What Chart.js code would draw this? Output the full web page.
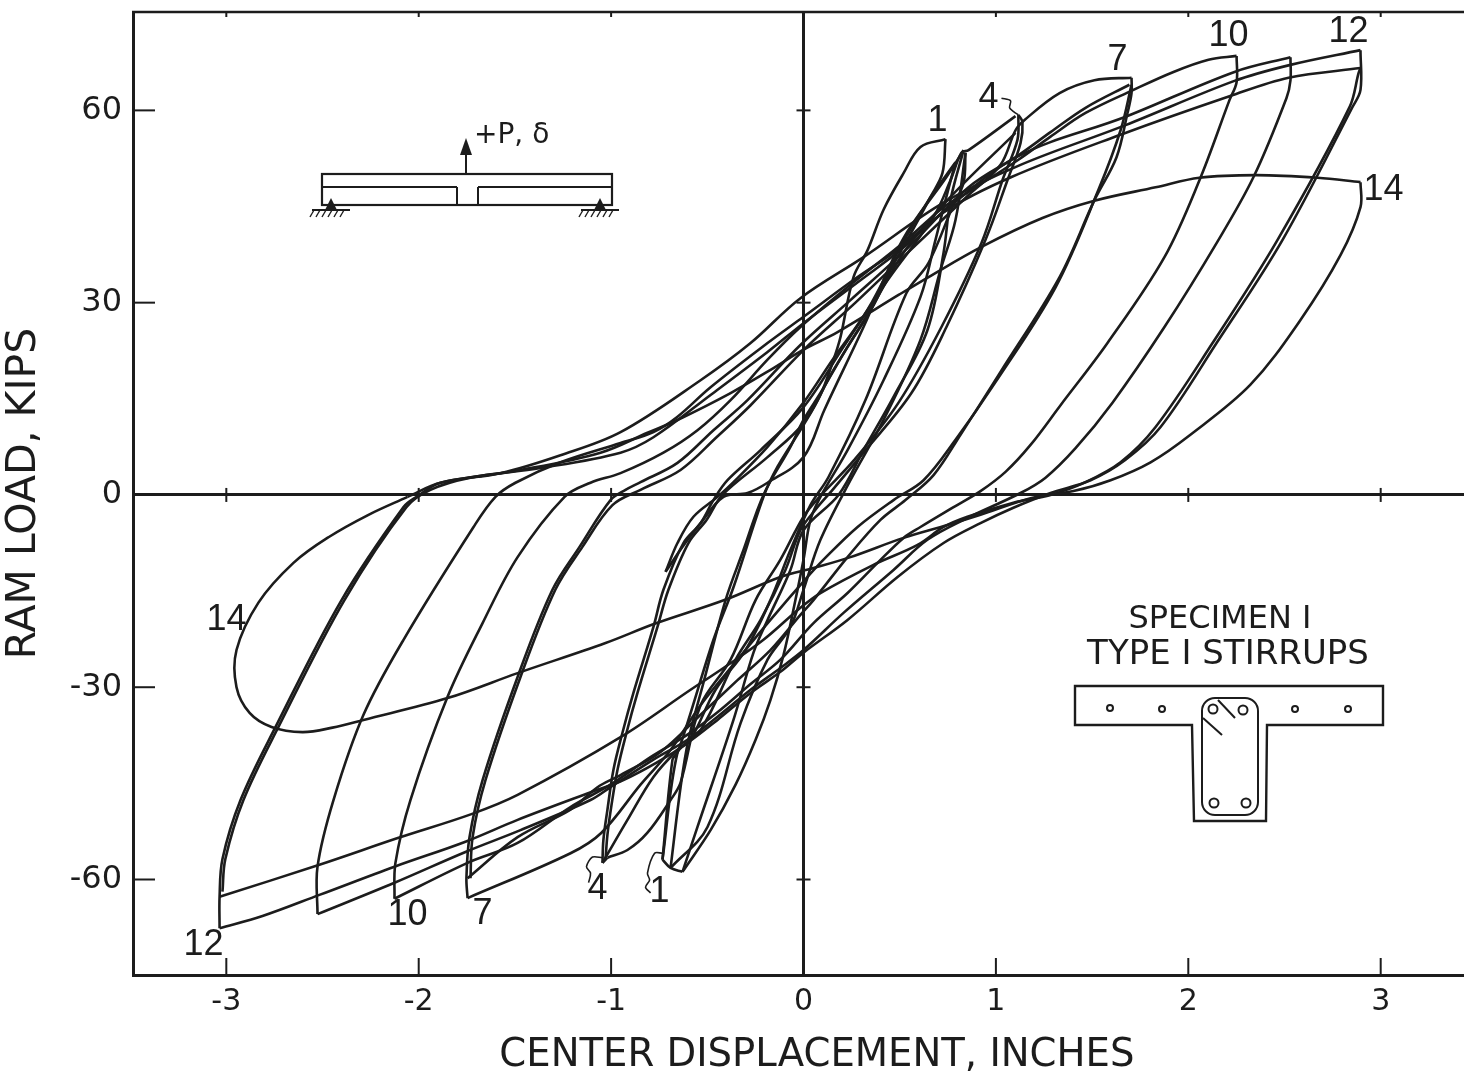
<!DOCTYPE html>
<html><head><meta charset="utf-8">
<style>html,body{margin:0;padding:0;background:#fff}canvas{display:block}</style>
<script src="https://cdn.jsdelivr.net/npm/chart.js@4/dist/chart.umd.min.js"></script>
</head><body><canvas id="c" width="1464" height="1075"></canvas>
<script>
const xTickValues=[-3,-2,-1,0,1,2,3];
const yTickValues=[-60,-30,0,30,60];
const xAxisTitle="\u00A0\u00A0\u00A0CENTER DISPLACEMENT, INCHES";
const yAxisTitle="RAM LOAD, KIPS";

// Each branch: [displacement in, load kips]
const cycle14Reload=[[-2.058,-0.3],[-1.887,1.9],[-1.471,3.9],[-1.055,6.6],[-0.811,9.7],[-0.655,11.7],[-0.379,15.9],[-0.156,19.8],[-0.005,22.6],[0.177,25.4],[0.494,31.2],[0.650,34.0],[0.925,38.7],[1.242,43.2],[1.512,45.9],[1.830,48.0],[2.058,49.5],[2.354,49.9],[2.672,49.5],[2.895,48.8]];
const cycle14Unload=[[2.895,48.8],[2.895,44.9],[2.791,37.4],[2.583,27.3],[2.323,17.2],[2.011,9.4],[1.804,5.1],[1.596,2.3],[1.403,0.6],[1.180,-0.5],[0.920,-3.1],[0.748,-4.7],[0.520,-6.7],[0.244,-9.7],[0.052,-11.4],[-0.120,-12.8],[-0.411,-16.4],[-0.774,-20.1],[-1.029,-23.1],[-1.486,-27.8],[-1.850,-31.7],[-2.287,-35.1],[-2.448,-36.3],[-2.604,-37.0],[-2.765,-36.2],[-2.879,-34.0],[-2.947,-30.0],[-2.947,-24.2],[-2.833,-16.8],[-2.651,-10.6],[-2.469,-6.6],[-2.261,-3.1],[-2.058,-0.3]];
const cycle12UnloadA=[[2.895,69.4],[2.895,63.2],[2.853,60.5],[2.490,39.8],[2.147,23.7],[1.856,10.6],[1.674,5.5],[1.492,2.3],[1.284,0.3],[1.091,-2.0],[0.920,-4.4],[0.728,-7.5],[0.489,-12.8],[0.229,-19.5],[0,-24.6],[-0.120,-27.6],[-0.275,-30.9],[-0.447,-35.1],[-0.603,-38.7],[-0.759,-41.7],[-0.936,-44.5],[-1.071,-46.0],[-1.486,-50.7],[-1.757,-54.1],[-2.126,-58.0],[-2.516,-62.4],[-2.812,-65.7],[-3.035,-67.6]];
const cycle12UnloadB=[[2.895,66.6],[2.885,65.8],[2.838,60.5],[2.464,39.8],[2.126,23.7],[1.830,10.6],[1.648,5.1],[1.466,2.0],[1.284,0],[1.091,-1.2],[0.852,-3.4],[0.728,-5.0],[0.593,-7.8],[0.364,-10.9],[0.088,-15.3],[-0.016,-17.6],[-0.208,-22.6],[-0.416,-27.0],[-0.587,-30.4],[-0.951,-37.8],[-1.486,-46.8],[-1.726,-49.8],[-2.105,-53.5],[-2.516,-57.7],[-3.035,-62.7]];
const cycle11Unload=[[2.531,68.3],[2.531,64.7],[2.510,61.9],[2.339,49.6],[2.147,39.3],[1.876,26.2],[1.606,14.4],[1.414,7.3],[1.258,2.7],[1.128,0.3],[0.852,-3.6],[0.644,-7.0],[0.468,-11.7],[0.208,-18.4],[0,-24.2],[-0.120,-27.0],[-0.275,-30.4],[-0.447,-34.6],[-0.603,-38.2],[-0.780,-41.3],[-1.003,-45.6],[-1.107,-47.6],[-1.471,-52.3],[-1.757,-55.7],[-2.126,-60.5],[-2.526,-65.4]];
const cycle10Unload=[[2.251,68.5],[2.251,64.4],[2.214,61.6],[2.058,49.1],[1.876,37.1],[1.580,23.7],[1.336,14.0],[1.180,7.8],[1.050,3.6],[0.920,0.6],[0.780,-1.9],[0.608,-5.0],[0.520,-6.7],[0.385,-10.6],[0.229,-15.3],[0.052,-20.0],[-0.120,-25.7],[-0.275,-29.5],[-0.447,-33.9],[-0.603,-37.4],[-0.795,-40.9],[-1.003,-45.2],[-1.211,-48.7],[-1.486,-54.3],[-1.746,-57.4],[-2.126,-63.0]];
const cycle7UnloadA=[[1.705,65.1],[1.705,62.7],[1.684,59.6],[1.627,52.7],[1.512,46.0],[1.331,34.0],[1.024,19.2],[0.816,9.4],[0.676,3.1],[0.530,-0.8],[0.400,-3.9],[0.229,-9.7],[0.052,-16.4],[-0.016,-18.7],[-0.172,-24.2],[-0.343,-28.9],[-0.535,-34.3],[-0.743,-40.1],[-0.951,-43.7],[-1.071,-45.6],[-1.211,-49.1],[-1.486,-53.4],[-1.746,-59.8]];
const cycle7UnloadB=[[1.705,64.0],[1.648,56.9],[1.533,47.6],[1.310,32.4],[0.998,17.6],[0.790,8.6],[0.624,2.3],[0.468,-0.8],[0.281,-5.0],[0.104,-10.1],[0.021,-12.8],[-0.172,-19.5],[-0.343,-25.7],[-0.535,-32.8],[-0.691,-39.8],[-0.847,-45.2],[-1.050,-52.7],[-1.211,-55.9],[-1.746,-62.9]];
const cycle12Reload=[[-3.035,-67.6],[-3.035,-62.7],[-3.020,-56.8],[-2.926,-47.6],[-2.744,-36.2],[-2.401,-16.4],[-2.079,-1.9],[-2.011,-0.3],[-1.887,1.9],[-1.575,3.4],[-1.263,6.2],[-0.951,9.8],[-0.535,17.9],[-0.275,23.7],[-0.016,30.7],[0.312,37.1],[0.728,45.6],[1.128,51.5],[1.674,57.7],[2.240,64.6],[2.531,67.1],[2.895,69.4]];
const cycle13Reload=[[-3.020,-61.9],[-3.005,-56.8],[-2.911,-47.6],[-2.729,-36.2],[-2.386,-16.4],[-2.064,-1.9],[-1.939,0.8],[-1.731,2.7],[-1.367,4.2],[-0.951,6.6],[-0.780,9.0],[-0.483,15.6],[-0.187,22.3],[0,26.8],[0.296,33.5],[0.504,38.2],[0.728,44.1],[1.081,49.6],[1.648,56.2],[2.214,62.2],[2.521,65.1],[2.895,66.6]];
const cycle11Reload=[[-2.526,-65.4],[-2.526,-58.0],[-2.443,-47.6],[-2.287,-34.3],[-2.079,-22.6],[-1.715,-5.0],[-1.601,-0.3],[-1.497,1.9],[-1.263,5.1],[-0.951,8.1],[-0.780,9.8],[-0.655,12.2],[-0.483,16.8],[-0.187,23.7],[0,27.8],[0.281,34.0],[0.468,37.8],[0.676,42.9],[1.107,52.7],[1.674,59.0],[2.240,66.0],[2.531,68.3]];
const cycle10Reload=[[-2.126,-63.0],[-2.121,-57.4],[-2.043,-47.6],[-1.850,-31.5],[-1.668,-20.0],[-1.486,-9.7],[-1.242,-0.3],[-1.107,1.9],[-0.951,3.4],[-0.728,6.6],[-0.551,10.1],[-0.379,14.8],[-0.187,21.1],[-0.016,26.2],[0.244,32.8],[0.504,39.0],[0.728,44.9],[0.858,47.3],[1.117,52.3],[1.284,55.9],[1.466,59.6],[1.715,63.2],[1.923,66.0],[2.105,67.9],[2.251,68.5]];
const cycle7ReloadA=[[-1.746,-62.9],[-1.752,-59.8],[-1.736,-53.4],[-1.668,-44.5],[-1.486,-28.4],[-1.305,-14.8],[-1.164,-8.1],[-1.003,-0.8],[-0.925,0.8],[-0.847,2.0],[-0.655,5.0],[-0.468,10.1],[-0.291,14.8],[-0.016,23.4],[0.244,30.4],[0.530,38.2],[0.858,48.0],[1.117,53.0],[1.284,56.6],[1.466,60.4],[1.694,64.0]];
const cycle7ReloadB=[[-1.731,-59.8],[-1.720,-53.4],[-1.653,-44.5],[-1.471,-28.4],[-1.290,-14.8],[-1.149,-8.1],[-0.993,-1.6],[-0.847,0.8],[-0.639,3.9],[-0.452,9.0],[-0.275,14.0],[0,22.6],[0.270,30.0],[0.556,38.2],[0.858,46.8],[1.024,51.5],[1.102,56.9],[1.149,58.5],[1.331,62.7],[1.512,64.7],[1.705,65.1]];
const cycle4ReloadA=[[-1.045,-57.4],[-1.040,-53.8],[-1.019,-49.1],[-0.988,-42.9],[-0.941,-37.1],[-0.884,-30.9],[-0.780,-20.6],[-0.728,-14.8],[-0.624,-7.5],[-0.535,-4.4],[-0.468,-0.8],[-0.395,2.3],[-0.223,7.0],[0,13.7],[0.208,23.1],[0.437,33.5],[0.676,43.4],[0.764,49.1],[0.821,53.4],[0.858,53.8],[1.102,59.1]];
const cycle4ReloadB=[[-1.029,-56.9],[-1.019,-53.0],[-0.998,-48.4],[-0.967,-42.9],[-0.920,-37.1],[-0.863,-30.9],[-0.759,-20.6],[-0.702,-14.8],[-0.598,-7.5],[-0.504,-3.9],[-0.421,0],[-0.187,5.9],[0,11.2],[0.156,19.5],[0.348,28.9],[0.530,38.2],[0.764,46.5],[1.102,56.5]];
const hookA=[[-0.717,-12.0],[-0.655,-7.5],[-0.572,-3.4],[-0.447,-0.3],[-0.364,2.0],[-0.187,7.5],[0,14.4],[0.151,21.1],[0.333,28.9],[0.515,39.3],[0.650,46.0],[0.790,51.9]];
const hookB=[[-0.717,-12.0],[-0.634,-8.3],[-0.535,-4.4],[-0.416,-0.3],[-0.291,0.3],[-0.187,1.9],[0,5.9],[0.109,13.3],[0.312,26.2],[0.515,39.8],[0.743,49.6],[0.832,53.8]];
const cycle1Unload=[[0.738,55.5],[0.722,50.2],[0.660,46.5],[0.567,41.3],[0.452,35.1],[0.359,29.3],[0.229,23.1],[0.088,15.9],[0,11.7],[-0.068,7.5],[-0.208,0],[-0.312,-8.6],[-0.405,-16.4],[-0.520,-29.3],[-0.598,-38.2],[-0.639,-45.6],[-0.691,-58.2]];
const cycle1Reload=[[-0.733,-56.9],[-0.681,-41.3],[-0.655,-40.2],[-0.598,-35.1],[-0.468,-22.6],[-0.364,-14.4],[-0.208,-0.3],[-0.135,4.4],[0,10.9],[0.088,15.6],[0.156,21.1],[0.192,24.6],[0.260,34.0],[0.333,38.2],[0.416,44.5],[0.520,50.2],[0.608,54.3],[0.738,55.5]];
const cycle1Right=[[-0.629,-58.8],[-0.483,-52.3],[-0.353,-45.2],[-0.249,-38.2],[-0.172,-32.0],[-0.104,-25.0],[-0.042,-16.4],[0,-10.1],[0.036,-3.9],[0.088,-0.3],[0.229,7.0],[0.416,17.9],[0.608,30.9],[0.686,39.8],[0.738,46.0],[0.790,51.9]];
const cycle2Right=[[-0.629,-58.8],[-0.551,-51.8],[-0.364,-35.1],[-0.260,-24.6],[-0.187,-19.5],[-0.068,-11.7],[0,-5.5],[0.182,0],[0.312,7.0],[0.468,15.3],[0.644,25.7],[0.728,37.8],[0.764,46.0],[0.832,53.8]];
const cycle3Right=[[-0.691,-58.2],[-0.499,-51.8],[-0.327,-35.6],[-0.187,-25.7],[-0.068,-20.6],[0,-14.8],[0.088,-7.0],[0.244,2.3],[0.416,11.7],[0.608,24.2],[0.712,35.1],[0.790,42.9],[0.842,53.4]];
const cycle3Unload=[[0.842,53.4],[0.832,48.7],[0.774,44.9],[0.650,36.2],[0.535,31.5],[0.322,14.8],[0.130,2.8],[0.036,-1.6],[-0.068,-8.6],[-0.172,-16.4],[-0.301,-24.2],[-0.457,-30.4],[-0.587,-38.2],[-0.655,-40.2],[-0.733,-56.9]];
const cycle4UnloadA=[[1.117,59.3],[1.138,58.2],[1.128,54.9],[1.060,49.1],[0.946,39.8],[0.743,26.2],[0.561,15.9],[0.312,6.6],[0.151,0.8],[0.062,-2.3],[-0.016,-5.5],[-0.094,-11.7],[-0.223,-19.5],[-0.353,-25.7],[-0.535,-36.7],[-0.655,-39.8],[-0.780,-44.0],[-0.915,-50.7],[-1.045,-57.4]];
const cycle4UnloadB=[[1.117,59.3],[1.112,55.4],[1.034,49.1],[0.925,39.3],[0.717,26.2],[0.494,14.4],[0.265,5.5],[0.083,-0.3],[0,-3.4],[-0.120,-10.1],[-0.249,-16.4],[-0.379,-25.7],[-0.535,-32.8],[-0.639,-44.9],[-0.691,-47.6],[-0.811,-52.7],[-0.915,-55.4],[-1.019,-56.6]];
const tipLink=[[-0.733,-56.9],[-0.691,-58.2],[-0.629,-58.8]];
const tipLink4=[[-1.019,-56.6],[-1.045,-57.4]];
const squiggle4Top=[[1.029,61.9],[1.076,61.5],[1.071,60.4],[1.092,59.8],[1.117,59.3]];
const squiggle4Low=[[-1.045,-56.6],[-1.097,-56.5],[-1.128,-58.0],[-1.107,-59.0],[-1.117,-60.5]];
const squiggle1Low=[[-0.733,-55.9],[-0.774,-55.9],[-0.811,-59.0],[-0.800,-60.1],[-0.821,-61.2],[-0.795,-62.1]];

const curveBranches=[cycle14Reload,cycle14Unload,cycle12UnloadA,cycle12UnloadB,cycle11Unload,cycle10Unload,cycle7UnloadA,cycle7UnloadB,cycle12Reload,cycle13Reload,cycle11Reload,cycle10Reload,cycle7ReloadA,cycle7ReloadB,cycle4ReloadA,cycle4ReloadB,hookA,hookB,cycle1Unload,cycle1Reload,cycle1Right,cycle2Right,cycle3Right,cycle3Unload,cycle4UnloadA,cycle4UnloadB,tipLink,tipLink4];
const leaderBranches=[squiggle4Top,squiggle4Low,squiggle1Low];

const cycleLabelText=["1","4","7","10","12","14","14","12","10","7","4","1"];
const cycleLabelX=[0.696,0.962,1.632,2.209,2.833,3.015,-2.999,-3.119,-2.058,-1.668,-1.071,-0.748];
const cycleLabelY=[58.3,61.9,67.9,71.6,72.2,47.6,-19.5,-70.2,-65.5,-65.4,-61.5,-61.9];

const INK="#1c1c1c";
const pts=a=>a.map(p=>({x:p[0],y:p[1]}));
const datasets=[
 ...curveBranches.map(b=>({data:pts(b),showLine:true,pointRadius:0,borderColor:INK,borderWidth:2.6,tension:0.35,fill:false})),
 ...leaderBranches.map(b=>({data:pts(b),showLine:true,pointRadius:0,borderColor:INK,borderWidth:1.6,tension:0.3,fill:false}))
];

const overlay={
 id:'overlay',
 afterDraw(chart){
  const c=chart.ctx,a=chart.chartArea,X=chart.scales.x,Y=chart.scales.y;
  const x0=X.getPixelForValue(0),y0=Y.getPixelForValue(0);
  c.save();c.strokeStyle=INK;c.fillStyle=INK;c.lineCap='butt';
  const L=(x1,y1,x2,y2,w)=>{c.lineWidth=w;c.beginPath();c.moveTo(x1,y1);c.lineTo(x2,y2);c.stroke();};
  L(a.left-1,a.top,a.right,a.top,2.5);
  xTickValues.forEach(v=>{const p=X.getPixelForValue(v);
    L(p,a.bottom,p,a.bottom-17,2);L(p,a.top,p,a.top+5,2);
    if(v!==0)L(p,y0-7,p,y0+7,2);});
  yTickValues.forEach(v=>{const p=Y.getPixelForValue(v);
    L(a.left,p,a.left+22,p,2);
    if(v!==0)L(x0-7,p,x0+7,p,2);});
  c.font='36px "Liberation Sans Narrow","Liberation Sans"';c.textAlign='center';c.textBaseline='middle';
  cycleLabelText.forEach((t,i)=>c.fillText(t,X.getPixelForValue(cycleLabelX[i]),Y.getPixelForValue(cycleLabelY[i])));
  // beam sketch
  c.lineWidth=2.2;
  c.strokeRect(322,174,290,31);
  L(322,187,457,187,2);L(478,187,612,187,2);L(457,187,457,205,2);L(478,187,478,205,2);
  L(466,174,466,152,2);
  c.beginPath();c.moveTo(466,138);c.lineTo(460,155);c.lineTo(472,155);c.closePath();c.fill();
  [331,600].forEach(p=>{
    c.lineWidth=2;c.beginPath();c.moveTo(p,198);c.lineTo(p-6,210);c.lineTo(p+6,210);c.closePath();c.fill();
    L(p-19,210,p+19,210,2);
    for(let k=-17;k<=17;k+=6)L(p+k,210,p+k-4,217,1.4);
  });
  c.font='28px "DejaVu Sans"';c.textAlign='left';c.textBaseline='alphabetic';
  c.fillText('+P, \u03B4',474,143);
  // T section
  c.lineWidth=2.4;c.beginPath();
  c.moveTo(1075,686);c.lineTo(1383,686);c.lineTo(1383,725);c.lineTo(1267,725);c.lineTo(1266,821);c.lineTo(1194,821);c.lineTo(1192,725);c.lineTo(1075,725);c.closePath();c.stroke();
  c.lineWidth=2;c.beginPath();c.roundRect(1202,698,56,117,13);c.stroke();
  L(1218,700,1235,718,2);L(1203,718,1222,735,2);
  [[1110,708,3],[1162,709,3],[1295,709,3],[1348,709,3],[1213,709,4.5],[1243,710,4.5],[1214,803,4.5],[1246,803,4.5]].forEach(b=>{c.beginPath();c.arc(b[0],b[1],b[2],0,Math.PI*2);c.stroke();});
  c.textAlign='center';c.textBaseline='middle';
  c.font='32px "DejaVu Sans"';
  c.fillText('SPECIMEN I',1220,620);
  c.font='34px "DejaVu Sans"';
  c.fillText('TYPE I STIRRUPS',1228,655);
  c.restore();
 }
};

new Chart(document.getElementById('c'),{
 type:'scatter',
 data:{datasets},
 plugins:[overlay],
 options:{
  responsive:false,animation:false,
  layout:{padding:{top:12,right:0,bottom:0,left:0}},
  plugins:{legend:{display:false},tooltip:{enabled:false}},
  scales:{
   x:{type:'linear',min:-3.485,max:3.433,
     afterBuildTicks(s){s.ticks=xTickValues.map(value=>({value}));},
     afterFit(s){s.height=100;s.paddingLeft=0;s.paddingRight=0;},
     ticks:{autoSkip:false,maxRotation:0,color:INK,padding:9,font:{family:'"DejaVu Sans"',size:30},callback:v=>String(v)},
     grid:{drawTicks:false,color:INK,lineWidth:c=>c.tick&&c.tick.value===0?3:0},
     border:{display:true,color:INK,width:3},
     title:{display:true,text:xAxisTitle,color:INK,font:{family:'"DejaVu Sans"',size:38.6},padding:{top:0,bottom:-4}}},
   y:{type:'linear',min:-74.9,max:75.35,
     afterBuildTicks(s){s.ticks=yTickValues.map(value=>({value}));},
     afterFit(s){s.width=133;s.paddingTop=0;s.paddingBottom=0;},
     ticks:{autoSkip:false,color:INK,padding:11,font:{family:'"DejaVu Sans"',size:32},callback:v=>String(v)},
     grid:{drawTicks:false,color:INK,lineWidth:c=>c.tick&&c.tick.value===0?3:0},
     border:{display:true,color:INK,width:3},
     title:{display:true,text:yAxisTitle,color:INK,font:{family:'"DejaVu Sans"',size:41},padding:{top:0,bottom:5}}}
  }
 }
});
</script></body></html>
